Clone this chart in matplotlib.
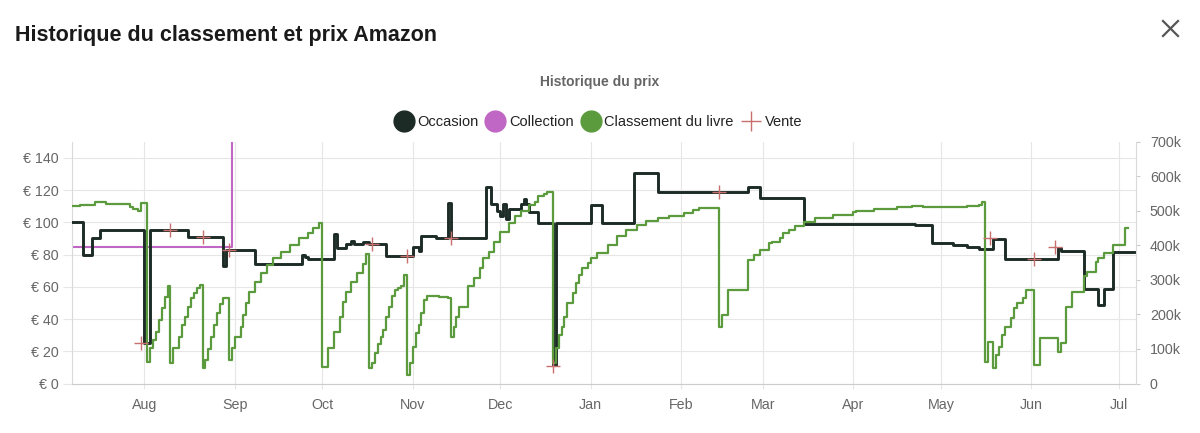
import matplotlib
matplotlib.use("Agg")
import matplotlib.pyplot as plt
import matplotlib.dates as mdates
import pandas as pd
from matplotlib.lines import Line2D
from matplotlib.ticker import FuncFormatter, MultipleLocator

plt.rcParams['font.family'] = ['Liberation Sans', 'DejaVu Sans']

# ---------------- data ----------------
occ_dates = ["2022-07-07", "2022-07-11", "2022-07-14", "2022-07-17", "2022-08-01", "2022-08-03",
             "2022-08-16", "2022-08-28", "2022-08-29", "2022-09-08", "2022-09-24", "2022-09-25",
             "2022-09-26", "2022-10-05", "2022-10-06", "2022-10-09", "2022-10-11", "2022-10-12",
             "2022-10-15", "2022-10-17", "2022-10-23", "2022-11-01", "2022-11-03", "2022-11-04",
             "2022-11-09", "2022-11-13", "2022-11-14", "2022-11-26", "2022-11-28", "2022-11-30",
             "2022-12-01", "2022-12-02", "2022-12-03", "2022-12-04", "2022-12-08", "2022-12-09",
             "2022-12-10", "2022-12-11", "2022-12-14", "2022-12-19", "2022-12-20", "2023-01-01",
             "2023-01-05", "2023-01-16", "2023-01-24", "2023-02-24", "2023-02-28", "2023-03-15",
             "2023-04-22", "2023-04-28", "2023-05-05", "2023-05-10", "2023-05-14", "2023-05-19",
             "2023-05-23", "2023-06-10", "2023-06-11", "2023-06-19", "2023-06-24", "2023-06-26",
             "2023-06-29", "2023-07-07"]
occ_prices = [100, 80, 90, 95.5, 25, 95.5,
              91, 73, 83, 74, 80, 78.5,
              77, 92.5, 84, 86.5, 88.5, 86.5,
              88, 86.5, 79, 84.5, 82, 91.5,
              90.5, 112, 90.5, 121.7, 111.5, 107.3,
              104.2, 111.5, 102.2, 108.4, 111.5, 114.6,
              111.5, 106.3, 99.7, 11.4, 99.7, 110.9,
              99.7, 130.4, 118.7, 121.7, 115.2, 99.1,
              98.5, 87.1, 86, 84.5, 83.6, 89.8,
              77.4, 84.2, 82, 58.9, 48.6, 58.9,
              81.5, 81.5]

coll_dates = ["2022-07-07", "2022-08-31"]
coll_prices = [85, 400]

rank_dates = ["2022-07-07", "2022-07-10", "2022-07-15", "2022-07-19", "2022-07-27", "2022-07-28",
              "2022-07-30", "2022-07-31", "2022-08-02", "2022-08-03", "2022-08-04", "2022-08-05",
              "2022-08-06", "2022-08-07", "2022-08-08", "2022-08-09", "2022-08-10", "2022-08-11",
              "2022-08-13", "2022-08-14", "2022-08-15", "2022-08-16", "2022-08-17", "2022-08-18",
              "2022-08-19", "2022-08-20", "2022-08-21", "2022-08-22", "2022-08-23", "2022-08-24",
              "2022-08-25", "2022-08-26", "2022-08-27", "2022-08-28", "2022-08-30", "2022-08-31",
              "2022-09-01", "2022-09-03", "2022-09-04", "2022-09-05", "2022-09-06", "2022-09-08",
              "2022-09-10", "2022-09-12", "2022-09-14", "2022-09-17", "2022-09-20", "2022-09-23",
              "2022-09-26", "2022-09-28", "2022-09-30", "2022-10-01", "2022-10-03", "2022-10-05",
              "2022-10-07", "2022-10-08", "2022-10-09", "2022-10-11", "2022-10-13", "2022-10-15",
              "2022-10-16", "2022-10-17", "2022-10-18", "2022-10-19", "2022-10-20", "2022-10-21",
              "2022-10-22", "2022-10-23", "2022-10-24", "2022-10-25", "2022-10-26", "2022-10-27",
              "2022-10-28", "2022-10-29", "2022-10-30", "2022-10-31", "2022-11-01", "2022-11-02",
              "2022-11-03", "2022-11-04", "2022-11-05", "2022-11-06", "2022-11-10", "2022-11-13",
              "2022-11-14", "2022-11-15", "2022-11-16", "2022-11-17", "2022-11-20", "2022-11-22",
              "2022-11-24", "2022-11-25", "2022-11-27", "2022-11-29", "2022-12-01", "2022-12-04",
              "2022-12-06", "2022-12-08", "2022-12-11", "2022-12-13", "2022-12-14", "2022-12-16",
              "2022-12-17", "2022-12-19", "2022-12-20", "2022-12-21", "2022-12-22", "2022-12-23",
              "2022-12-24", "2022-12-26", "2022-12-27", "2022-12-28", "2022-12-29", "2022-12-31",
              "2023-01-01", "2023-01-03", "2023-01-07", "2023-01-10", "2023-01-13", "2023-01-17",
              "2023-01-20", "2023-01-24", "2023-01-28", "2023-02-02", "2023-02-05", "2023-02-07",
              "2023-02-14", "2023-02-15", "2023-02-17", "2023-02-24", "2023-02-26", "2023-02-28",
              "2023-03-03", "2023-03-04", "2023-03-07", "2023-03-08", "2023-03-10", "2023-03-12",
              "2023-03-15", "2023-03-19", "2023-03-25", "2023-04-01", "2023-04-02", "2023-04-08",
              "2023-04-16", "2023-04-21", "2023-04-25", "2023-05-03", "2023-05-10", "2023-05-14",
              "2023-05-15", "2023-05-16", "2023-05-17", "2023-05-19", "2023-05-20", "2023-05-21",
              "2023-05-22", "2023-05-23", "2023-05-25", "2023-05-26", "2023-05-27", "2023-05-29",
              "2023-05-30", "2023-06-02", "2023-06-04", "2023-06-10", "2023-06-11", "2023-06-13",
              "2023-06-15", "2023-06-19", "2023-06-20", "2023-06-23", "2023-06-24", "2023-06-26",
              "2023-06-29", "2023-07-03", "2023-07-04"]
rank_k = [515, 517, 527, 520, 512, 506,
          501, 524, 63, 103, 125, 150,
          185, 220, 250, 281, 60, 102,
          136, 170, 194, 223, 247, 261,
          276, 286, 44, 68, 100, 136,
          170, 205, 230, 247, 68, 102,
          134, 165, 199, 232, 266, 295,
          320, 343, 363, 380, 401, 421,
          435, 450, 466, 49, 102, 150,
          194, 237, 266, 295, 320, 345,
          375, 46, 59, 88, 115, 136,
          155, 194, 223, 252, 270, 276,
          281, 315, 25, 59, 107, 146,
          170, 203, 242, 252, 250, 247,
          136, 165, 194, 223, 281, 305,
          334, 363, 382, 411, 440, 464,
          484, 500, 517, 527, 542, 548,
          554, 60, 102, 141, 165, 194,
          232, 261, 290, 314, 334, 348,
          363, 377, 401, 426, 445, 459,
          471, 479, 486, 493, 503, 508,
          165, 199, 271, 358, 372, 387,
          406, 411, 421, 435, 445, 457,
          467, 479, 488, 496, 500, 506,
          512, 515, 510, 512, 515, 517,
          525, 63, 119, 44, 83, 107,
          141, 165, 189, 218, 232, 247,
          271, 54, 131, 92, 117, 223,
          266, 310, 324, 353, 363, 377,
          401, 450, 450]
rank_values = [v * 1000 for v in rank_k]

vente_dates = ["2022-07-31", "2022-08-10", "2022-08-21", "2022-08-30", "2022-10-18", "2022-10-30",
               "2022-11-14", "2022-12-19", "2023-02-14", "2023-05-18", "2023-06-02", "2023-06-09"]
vente_prices = [25, 95.5, 91, 83, 86.5, 79, 90, 11, 118.7, 90, 77, 85]

price_ticks = [0, 20, 40, 60, 80, 100, 120, 140]
rank_ticks = [0, 100000, 200000, 300000, 400000, 500000, 600000, 700000]

# ---------------- style ----------------
C_OCC = "#1c2b25"
C_COLL = "#c066c4"
C_RANK = "#5b9b3d"
C_VENTE = "#c8706e"
C_GRID = "#e6e6e6"
C_LABEL = "#666666"

W, H = 1200, 433
fig = plt.figure(figsize=(W / 100, H / 100), dpi=100)
fig.patch.set_facecolor("white")


def fx(px):
    return px / W


def fy(py):
    return 1 - py / H


rect = [fx(72), fy(383.5), fx(1136) - fx(72), fy(141.8) - fy(383.5)]
ax = fig.add_axes(rect)

od = pd.to_datetime(occ_dates)
cd = pd.to_datetime(coll_dates)
rd = pd.to_datetime(rank_dates)
vd = pd.to_datetime(vente_dates)

ax.step(od, occ_prices, where="post", color=C_OCC, lw=2.1, zorder=3)
ax.step(cd, coll_prices, where="post", color=C_COLL, lw=1.5, zorder=2)

x0 = pd.Timestamp("2022-08-01") - pd.Timedelta(days=24.74)
x1 = pd.Timestamp("2022-08-01") + pd.Timedelta(days=339.86)
ax.set_xlim(x0, x1)
ax.set_ylim(0, 150)
ax.set_yticks(price_ticks)
ax.yaxis.set_major_formatter(FuncFormatter(lambda v, p: f"€ {v:.0f}"))
ax.xaxis.set_major_locator(mdates.MonthLocator())
ax.xaxis.set_major_formatter(mdates.DateFormatter("%b"))
ax.grid(True, color=C_GRID, lw=0.8, zorder=0)
ax.set_axisbelow(True)
for s in ["top", "right"]:
    ax.spines[s].set_visible(False)
ax.spines["left"].set_color("#d9d9d9")
ax.spines["bottom"].set_color("#cccccc")
ax.tick_params(axis="y", length=6.5, color=C_GRID, labelcolor=C_LABEL, labelsize=10.3, pad=3)
ax.tick_params(axis="x", length=3.5, color=C_GRID, labelcolor=C_LABEL, labelsize=10.3, pad=7)

ax2 = ax.twinx()
ax2.step(rd, rank_values, where="post", color=C_RANK, lw=1.6, zorder=3)
ax2.set_ylim(0, 700000)
ax2.set_yticks(rank_ticks)
ax2.yaxis.set_major_formatter(FuncFormatter(lambda v, p: "0" if v == 0 else f"{v/1000:.0f}k"))
for s in ["top", "left", "bottom"]:
    ax2.spines[s].set_visible(False)
ax2.spines["right"].set_color("#d9d9d9")
ax2.tick_params(axis="y", length=3, color="#cccccc", labelcolor=C_LABEL, labelsize=10.3, pad=7)
ax2.set_xlim(x0, x1)

ax3 = fig.add_axes(rect, sharex=ax, sharey=ax)
ax3.patch.set_visible(False)
ax3.axis("off")
ax3.plot(vd, vente_prices, ls="none", marker="+", markersize=10, mew=1.0, color=C_VENTE)
ax3.set_xlim(x0, x1)
ax3.set_ylim(0, 150)

# titles
fig.text(fx(15), fy(35), "Historique du classement et prix Amazon", fontsize=15.5,
         fontweight="bold", color="#1a1a1a", va="center", ha="left")
fig.text(fx(600), fy(82), "Historique du prix", fontsize=10, fontweight="bold",
         color=C_LABEL, va="center", ha="center")
fig.add_artist(Line2D([fx(1163), fx(1178)], [fy(21), fy(36)], color="#555555", lw=1.6))
fig.add_artist(Line2D([fx(1163), fx(1178)], [fy(36), fy(21)], color="#555555", lw=1.6))

handles = [
    Line2D([], [], ls="none", marker="o", markersize=15, color=C_OCC),
    Line2D([], [], ls="none", marker="o", markersize=15, color=C_COLL),
    Line2D([], [], ls="none", marker="o", markersize=15, color=C_RANK),
    Line2D([], [], ls="none", marker="+", markersize=15, mew=1.0, color=C_VENTE),
]
labels = ["Occasion", "Collection", "Classement du livre", "Vente"]
fig.legend(handles, labels, loc="center", bbox_to_anchor=(fx(598), fy(122)), ncol=4,
           frameon=False, fontsize=10.5, handletextpad=0.3, columnspacing=0.5,
           handlelength=1.3, labelcolor="#222222")

fig.savefig("out.png", dpi=100, facecolor="white")
